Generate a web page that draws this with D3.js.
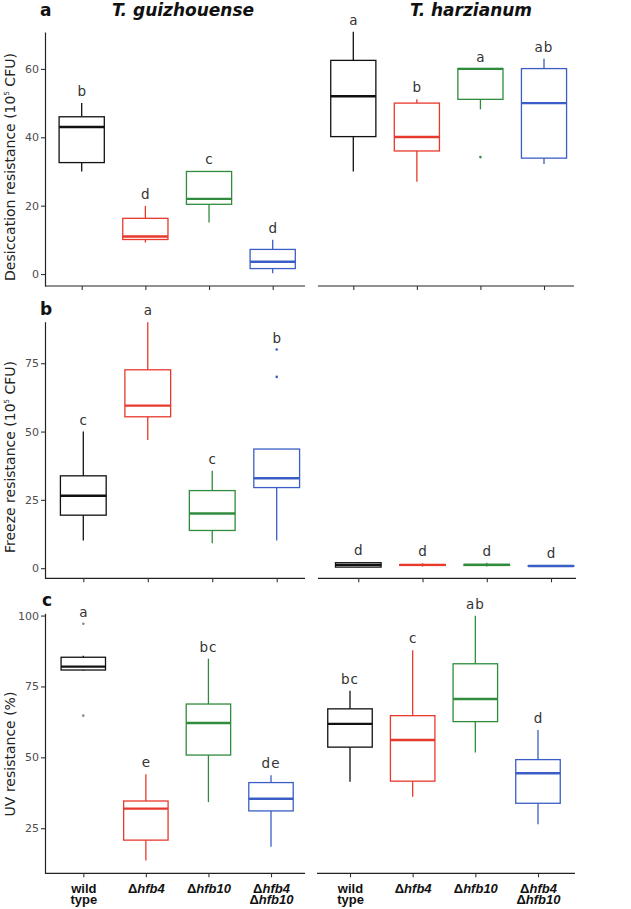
<!DOCTYPE html>
<html>
<head>
<meta charset="utf-8">
<script src="https://cdn.jsdelivr.net/npm/d3@7"></script>
<style>
  body { margin: 0; background: #fff; }
  svg { display: block; font-family: "DejaVu Sans", Verdana, sans-serif; }
</style>
</head>
<body>
<div id="chart"></div>
<script>
// categories
const genotypes = ["wt", "hfb4", "hfb10", "hfb4hfb10"];
const species = ["T. guizhouense", "T. harzianum"];
const colors = ["#111111", "#E8392D", "#2F8C3C", "#3B5EC6"];

// box stats: [lower whisker, Q1, median, Q3, upper whisker]
const desiccationGuiz = [[30, 32.6, 43, 46, 50], [9.2, 10.1, 11, 16.3, 19.9], [15.1, 20.4, 22, 30, 30], [0.2, 1.6, 3.6, 7.2, 10]];
const desiccationHarz = [[30, 40.2, 52, 62.5, 70.9], [27, 36, 40.1, 50, 51.1], [48.2, 51.1, 60, 60.1, 60.1], [32.2, 33.9, 50, 60.1, 63]];
const desiccationOutGuiz = [[], [], [], []];
const desiccationOutHarz = [[], [], [34.2], []];
const desiccationLetGuiz = ["b", "d", "c", "d"];
const desiccationLetHarz = ["a", "b", "a", "ab"];

const freezeGuiz = [[10.1, 19.4, 26.5, 33.8, 50], [46.9, 55.4, 59.5, 72.6, 90], [9.1, 13.8, 20, 28.4, 35.7], [10.1, 29.5, 32.9, 43.6, 43.6]];
const freezeHarz = [[0.3, 0.4, 1.2, 2.0, 2.2], [0.6, 1.0, 1.2, 1.3, 1.8], [0.6, 1.0, 1.2, 1.4, 2.0], [0.6, 0.7, 0.8, 0.9, 1.0]];
const freezeOutGuiz = [[], [], [], [70, 80]];
const freezeOutHarz = [[], [], [], []];
const freezeLetGuiz = ["c", "a", "c", "b"];
const freezeLetHarz = ["d", "d", "d", "d"];

const uvGuiz = [[80.5, 80.8, 82, 85.3, 85.8], [13.6, 20.8, 31.9, 34.6, 44], [34.2, 50.8, 62.1, 68.8, 84.8], [18.5, 31.1, 35.4, 41.1, 43.7]];
const uvHarz = [[41.4, 53.6, 61.8, 67.1, 73.5], [36.1, 41.6, 56.1, 64.7, 87.8], [51.7, 62.6, 70.6, 83, 99.9], [26.4, 33.8, 44.4, 49.2, 59.6]];
const uvOutGuiz = [[64.7, 97.1], [], [], []];
const uvOutHarz = [[], [], [], []];
const uvLetGuiz = ["a", "e", "bc", "de"];
const uvLetHarz = ["bc", "c", "ab", "d"];

const desiccationTicks = [0, 20, 40, 60];
const freezeTicks = [0, 25, 50, 75];
const uvTicks = [25, 50, 75, 100];

// layout of the three rows (pixels)
const rows = [
  {tag: "a", top: 32, bottom: 286, domain: [-3.5, 70.8], ticks: desiccationTicks, title: ["Desiccation resistance (10", "5", " CFU)"], titleY: 167,
   data: [[desiccationGuiz, desiccationOutGuiz, desiccationLetGuiz], [desiccationHarz, desiccationOutHarz, desiccationLetHarz]],
   panels: [{axis: [45, 305], cats: [81.7, 272.7]}, {axis: [318, 574], cats: [353.3, 544]}]},
  {tag: "b", top: 321.7, bottom: 578.3, domain: [-3.7, 90.2], ticks: freezeTicks, title: ["Freeze resistance (10", "5", " CFU)"], titleY: 457,
   data: [[freezeGuiz, freezeOutGuiz, freezeLetGuiz], [freezeHarz, freezeOutHarz, freezeLetHarz]],
   panels: [{axis: [45, 305], cats: [83.3, 276.7]}, {axis: [318, 576], cats: [358.3, 551]}]},
  {tag: "c", top: 613.3, bottom: 873.3, domain: [9.1, 100.8], ticks: uvTicks, title: ["UV resistance (%)"], titleY: 754,
   data: [[uvGuiz, uvOutGuiz, uvLetGuiz], [uvHarz, uvOutHarz, uvLetHarz]],
   panels: [{axis: [45, 305], cats: [83.3, 271]}, {axis: [317, 575], cats: [350, 538]}]}
];

const W = 631, H = 909;
const svg = d3.select("#chart").append("svg").attr("width", W).attr("height", H);

// species titles
svg.selectAll("text.species").data(species).enter().append("text")
  .attr("class", "species")
  .attr("x", (d, i) => i === 0 ? 183 : 471)
  .attr("y", 16)
  .attr("text-anchor", "middle")
  .attr("font-size", 17).attr("font-weight", "bold").attr("font-style", "italic")
  .attr("fill", "#111")
  .text(d => d);

rows.forEach(function(row, r) {
  const y = d3.scaleLinear().domain(row.domain).range([row.bottom, row.top]);

  // panel tag
  svg.append("text").attr("x", r === 2 ? 42 : 40).attr("y", r === 0 ? 16 : row.top - 7)
    .attr("font-size", 17).attr("font-weight", "bold").attr("fill", "#111").text(row.tag);

  // y axis on left panel
  const ya = svg.append("g").attr("transform", "translate(" + row.panels[0].axis[0] + ",0)")
    .call(d3.axisLeft(y).tickValues(row.ticks).tickSize(4).tickSizeOuter(0).tickPadding(2));
  ya.select(".domain").attr("stroke", "#222").attr("stroke-width", 1.2);
  ya.selectAll(".tick line").attr("stroke", "#333").attr("stroke-width", 1.1);
  ya.selectAll(".tick text").attr("font-size", 11).attr("fill", "#4d4d4d").attr("font-family", "DejaVu Sans");

  // y title
  const yt = svg.append("text")
    .attr("transform", "translate(15," + row.titleY + ") rotate(-90)")
    .attr("text-anchor", "middle").attr("font-size", 14).attr("fill", "#222");
  yt.append("tspan").text(row.title[0]);
  if (row.title.length > 1) {
    yt.append("tspan").attr("font-size", 7).attr("dy", -6).text(row.title[1]);
    yt.append("tspan").attr("dy", 6).text(row.title[2]);
  }

  row.panels.forEach(function(p, s) {
    const x = d3.scalePoint().domain(genotypes).range(p.cats);
    const step = x.step();
    const bw = step * 0.71;
    const [stats, outs, lets] = row.data[s];

    // x axis
    svg.append("line")
      .attr("x1", p.axis[0]).attr("x2", p.axis[1])
      .attr("y1", row.bottom).attr("y2", row.bottom)
      .attr("stroke", "#222").attr("stroke-width", 1.2);
    const xa = svg.append("g").attr("transform", "translate(0," + row.bottom + ")")
      .call(d3.axisBottom(x).tickSize(4).tickFormat(""));
    xa.select(".domain").remove();
    xa.selectAll(".tick line").attr("stroke", "#333").attr("stroke-width", 1.1);

    if (r === 2) {
      xa.selectAll(".tick").each(function(g) {
        const tick = d3.select(this);
        function line(parts, dy) {
          const t = tick.append("text").attr("x", 0).attr("y", dy)
            .attr("text-anchor", "middle").attr("fill", "#111")
            .attr("font-size", 13).attr("font-weight", "bold");
          parts.forEach(function(pt) {
            t.append("tspan").attr("font-style", pt[1] ? "italic" : "normal").text(pt[0]);
          });
        }
        if (g === "wt") { line([["wild", 0]], 19.5); line([["type", 0]], 30.5); }
        else if (g === "hfb4") line([["Δ", 0], ["hfb4", 1]], 19.5);
        else if (g === "hfb10") line([["Δ", 0], ["hfb10", 1]], 19.5);
        else { line([["Δ", 0], ["hfb4", 1]], 19.5); line([["Δ", 0], ["hfb10", 1]], 30.5); }
      });
    }

    const gb = svg.append("g").selectAll("g").data(genotypes).enter().append("g");
    // whiskers
    gb.append("line")
      .attr("x1", g => x(g)).attr("x2", g => x(g))
      .attr("y1", (g, i) => y(stats[i][0])).attr("y2", (g, i) => y(stats[i][4]))
      .attr("stroke", (g, i) => colors[i]).attr("stroke-width", 1.3);
    // boxes
    gb.append("rect")
      .attr("x", g => x(g) - bw / 2).attr("width", bw)
      .attr("y", (g, i) => y(stats[i][3]))
      .attr("height", (g, i) => Math.max(0.5, y(stats[i][1]) - y(stats[i][3])))
      .attr("fill", "#fff").attr("stroke", (g, i) => colors[i]).attr("stroke-width", 1.3);
    // medians
    gb.append("line")
      .attr("x1", g => x(g) - bw / 2).attr("x2", g => x(g) + bw / 2)
      .attr("y1", (g, i) => y(stats[i][2])).attr("y2", (g, i) => y(stats[i][2]))
      .attr("stroke", (g, i) => colors[i]).attr("stroke-width", 2.4);
    // outliers
    gb.each(function(g, i) {
      d3.select(this).selectAll("circle").data(outs[i]).enter().append("circle")
        .attr("cx", x(g)).attr("cy", v => y(v)).attr("r", 1.3)
        .attr("fill", i === 0 ? "#8a8a8a" : colors[i]);
    });
    // letters
    gb.append("text")
      .attr("x", g => x(g))
      .attr("y", (g, i) => y(d3.max([stats[i][4]].concat(outs[i]))) - 7)
      .attr("text-anchor", "middle").attr("font-size", 13.5).attr("fill", "#333")
      .attr("letter-spacing", (g, i) => lets[i].length > 1 ? 1 : 0)
      .text((g, i) => lets[i]);
  });
});
</script>
</body>
</html>
